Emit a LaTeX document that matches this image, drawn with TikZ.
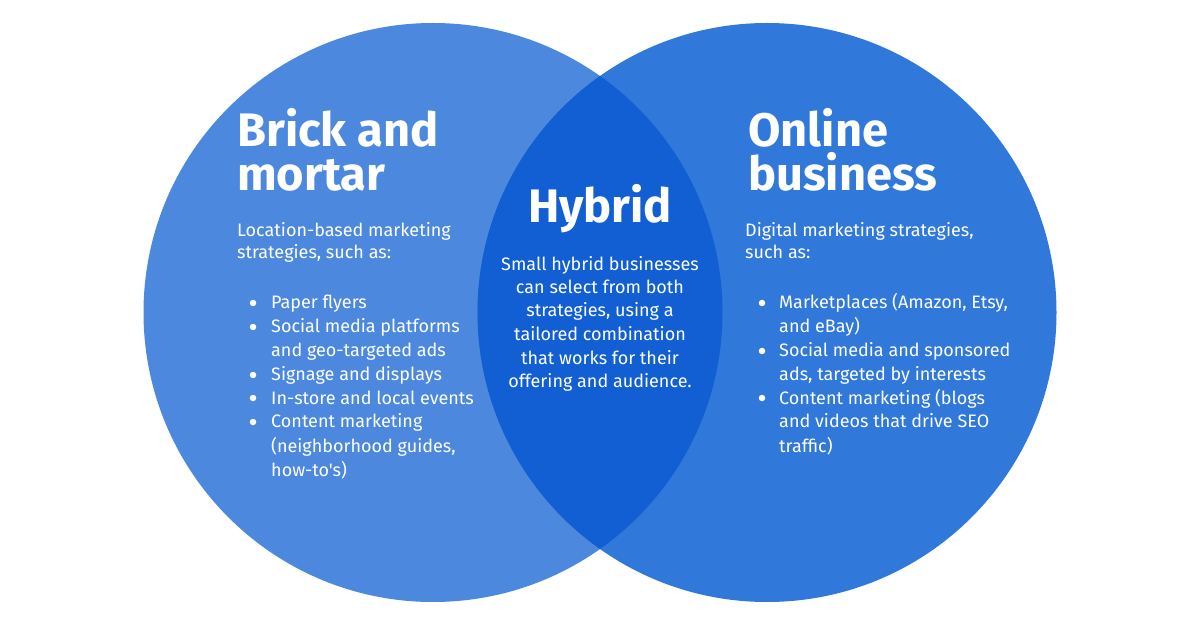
\documentclass[tikz,border=0pt]{standalone}
\usepackage{fontspec}
\setmainfont{Fira Sans}[Ligatures=TeXOff]
\definecolor{brickblue}{HTML}{4C89DE}
\definecolor{onlineblue}{HTML}{3078DA}
\definecolor{hybridblue}{HTML}{115FD3}
\tikzset{
  headtext/.style={text=white, inner sep=0pt, font=\fontsize{47}{44}\selectfont\bfseries},
  bodytext/.style={text=white, inner sep=0pt, font=\fontsize{18}{24}\selectfont},
  dot/.style={circle, fill=white, inner sep=0pt, minimum size=6.5pt}
}
\begin{document}
\begin{tikzpicture}[x=1pt,y=-1pt]
\useasboundingbox (0,0) rectangle (1200,628);
\fill[white] (0,0) rectangle (1200,628);
% circles
\fill[brickblue] (433,312.5) circle (289.5pt);
\fill[onlineblue] (767,312.5) circle (289.5pt);
\begin{scope}
\clip (433,312.5) circle (289.5pt);
\fill[hybridblue] (767,312.5) circle (289.5pt);
\end{scope}
% brick and mortar
\node[headtext, anchor=base west] (bm1) at (237,147) {Brick and};
\node[headtext, anchor=base west] (bm2) at (237,191) {mortar};
\node[bodytext, anchor=base west] (bmi1) at (237,237) {Location-based marketing};
\node[bodytext, anchor=base west] (bmi2) at (237,259) {strategies, such as:};
\node[dot] (bmd1) at (253,303) {};
\node[bodytext, anchor=base west] (bml1) at (271,309) {Paper flyers};
\node[dot] (bmd2) at (253,327) {};
\node[bodytext, anchor=base west] (bml2) at (271,333) {Social media platforms};
\node[bodytext, anchor=base west] (bml3) at (271,357) {and geo-targeted ads};
\node[dot] (bmd3) at (253,375) {};
\node[bodytext, anchor=base west] (bml4) at (271,381) {Signage and displays};
\node[dot] (bmd4) at (253,398) {};
\node[bodytext, anchor=base west] (bml5) at (271,404) {In-store and local events};
\node[dot] (bmd5) at (253,422) {};
\node[bodytext, anchor=base west] (bml6) at (271,428) {Content marketing};
\node[bodytext, anchor=base west] (bml7) at (271,452) {(neighborhood guides,};
\node[bodytext, anchor=base west] (bml8) at (271,476) {how-to's)};
% hybrid
\node[headtext, anchor=base] (hy) at (600,223) {Hybrid};
\node[bodytext, anchor=base] (hyl1) at (600,271) {Small hybrid businesses};
\node[bodytext, anchor=base] (hyl2) at (600,294) {can select from both};
\node[bodytext, anchor=base] (hyl3) at (600,317) {strategies, using a};
\node[bodytext, anchor=base] (hyl4) at (600,341) {tailored combination};
\node[bodytext, anchor=base] (hyl5) at (600,365) {that works for their};
\node[bodytext, anchor=base] (hyl6) at (600,388) {offering and audience.};
% online business
\node[headtext, anchor=base west] (ob1) at (748,147) {Online};
\node[headtext, anchor=base west] (ob2) at (748,191) {business};
\node[bodytext, anchor=base west] (obi1) at (745,237) {Digital marketing strategies,};
\node[bodytext, anchor=base west] (obi2) at (745,259) {such as:};
\node[dot] (obd1) at (762,303) {};
\node[bodytext, anchor=base west] (obl1) at (779,309) {Marketplaces (Amazon, Etsy,};
\node[bodytext, anchor=base west] (obl2) at (779,333) {and eBay)};
\node[dot] (obd2) at (762,351) {};
\node[bodytext, anchor=base west] (obl3) at (779,357) {Social media and sponsored};
\node[bodytext, anchor=base west] (obl4) at (779,381) {ads, targeted by interests};
\node[dot] (obd3) at (762,398) {};
\node[bodytext, anchor=base west] (obl5) at (779,404) {Content marketing (blogs};
\node[bodytext, anchor=base west] (obl6) at (779,428) {and videos that drive SEO};
\node[bodytext, anchor=base west] (obl7) at (779,452) {traffic)};
\end{tikzpicture}
\end{document}
